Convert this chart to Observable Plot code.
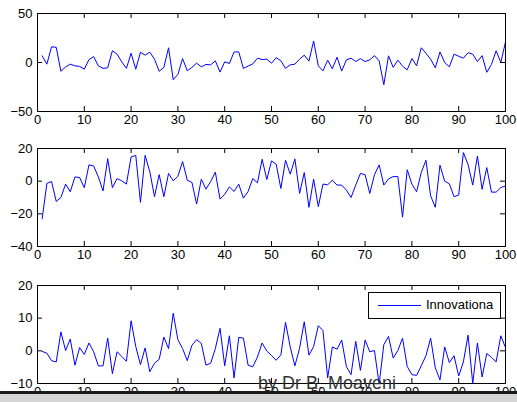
<!DOCTYPE html>
<html><head><meta charset="utf-8">
<script src="https://cdn.jsdelivr.net/npm/d3@7"></script>
<script src="https://cdn.jsdelivr.net/npm/@observablehq/plot@0.6"></script>
<style>
body{margin:0;background:#fff;width:517px;height:402px;overflow:hidden;font-family:"Liberation Sans",Arial,sans-serif;}
#wrap{position:relative;width:517px;height:402px;overflow:hidden;}
.panel{position:absolute;left:0;}
#legend{position:absolute;left:368px;top:292px;width:131px;height:25px;border:1px solid #000;background:#fff;font-size:13px;}
#legend .sw{position:absolute;left:9px;top:12px;width:43px;height:1px;background:#0000ff;}
#legend .lb{position:absolute;left:57px;top:4px;color:#000;white-space:nowrap;}
#mark{position:absolute;left:258px;top:372px;height:20px;overflow:hidden;font-size:18px;color:#333;white-space:nowrap;line-height:22px;}
#bar{position:absolute;left:0;top:391px;width:517px;height:3px;background:#1a1a1a;}
#below{position:absolute;left:0;top:394px;width:517px;height:8px;background:#d4d4d4;}
</style></head><body><div id="wrap"></div>
<script>
const xTicks = [0,10,20,30,40,50,60,70,80,90,100];
const yTicks1 = [-50,0,50];
const yTicks2 = [-40,-20,0,20];
const yTicks3 = [-10,0,10,20];
const yDomain1 = [-50,50];
const yDomain2 = [-40,20];
const yDomain3 = [-10,20];
const legendLabel = "Innovationa";
const watermark = "by Dr B. Moaveni";

const series1 = [6.8,-1.7,16,15.5,-9,-4.5,-1.7,-3.4,-4,-6.8,
3,6,-3.4,-6,-5.4,12,8.5,0.7,-6,9.5,
-6.8,10.5,7.5,10.5,3.4,-9,-5,15,-17.6,-12,
4,-8.5,-5,-0.7,-4.4,-2,-2.4,1.7,-9.8,0.7,
-1,10.8,10.8,-6,-3.7,-1.4,4.4,3,3.4,-0.7,
5,1.7,-6,-2.4,-1.7,3.4,7.5,1.4,22,-3.4,
-8.5,2.4,-6.4,5.4,-8.8,2.7,4.4,1,4,1,
2.7,7,1.7,-22.7,6.8,-5,2.4,-3.7,-7.5,4,
-3.4,15,9.5,3.4,-5.4,10.8,0,-4.4,8.5,6.4,
4.4,10,8.5,1,7,-10,-2,12,0,21];

const series2 = [-23,-1.4,-0.2,-12.4,-10,-1.8,-6.5,2.6,2.2,-4,
10,9.3,2.6,-6,13.8,-4,1.6,0.2,-1.8,14.8,
15.8,-13,15.8,5.7,-9.5,4,-9.5,4.7,0.2,3,
12,0.6,-0.8,-14,1.2,-4.9,-0.2,5.5,-11,-8,
-3.5,-6.3,-1.8,-10.4,-6.3,1.6,-1,13.4,1,12.4,
10.4,-4.5,12.8,4.3,13.6,-7.5,5.3,-16,1.2,-15.6,
-1.8,-2.2,0.6,-2.4,-2.4,-5.5,-10,-2.4,4.7,4,
-7.5,3.9,10,-2.4,1.4,2.8,2.8,-22,7,-1.8,
-6.5,5.3,12.8,-9,-16,9.8,0,-1.6,-9.5,-8.5,
17.5,10.2,-2.4,15.4,-5,8.3,-6.7,-6.7,-3.9,-3];

const series3 = [-0.2,-0.7,-3,-3.4,5.8,0.1,3.6,-4.4,1,-1.1,
2.4,-0.3,-4.6,-4.6,3.9,-7,-0.3,-1.7,-3.2,9.2,
1.3,-4.2,0.9,-6.4,-3.8,-2.6,4.2,0.7,11.5,3.4,
0.7,-3,1.7,3.4,2.3,-4.4,-3.8,0.7,6.9,-4.6,
4.6,-8.3,4.1,3.9,-4.4,-4.9,-1.9,2.4,-0.1,-1.4,
-2.9,-1.2,8.7,1.2,-4.6,0.8,8.9,-1.3,1.3,7.7,
6.2,-8.3,1.2,0.5,3.3,-4.8,-7.3,2.9,-6,3.3,
-0.3,0.1,-10.2,1.9,4.4,-2.2,0.1,3.9,-4.8,-7.3,
-7.5,-4.6,-1.5,3.9,-5.2,-8.9,1.2,-3.6,-1.5,-7.7,
-3.4,4.8,-10,2.4,-8,-0.8,-2,-3.4,4.6,1];

const W = 517, mL = 37, mR = 12, mT = 8, mB = 22, H = 128;
const areaW = W - mL - mR, areaH = H - mT - mB, tick = 5;

function panel(values, domain, ticks, top) {
  const svg = Plot.plot({
    width: W, height: H,
    marginLeft: mL, marginRight: mR, marginTop: mT, marginBottom: mB,
    style: {fontSize: "13px", fontFamily: '"Liberation Sans", Arial, sans-serif', color: "#000", background: "transparent", overflow: "visible"},
    x: {domain: [0, 100]},
    y: {domain},
    marks: [
      Plot.line(values, {x: (d, i) => i + 1, y: d => d, stroke: "#0000ff", strokeWidth: 1, clip: true}),
      Plot.frame({stroke: "#000"}),
      Plot.axisX({ticks: xTicks, tickSize: 0, tickPadding: 3}),
      Plot.axisY({ticks: ticks, tickSize: 0, tickPadding: 5}),
      Plot.tickX(xTicks, {x: d => d, insetTop: areaH - tick, stroke: "#000"}),
      Plot.tickX(xTicks, {x: d => d, insetBottom: areaH - tick, stroke: "#000"}),
      Plot.tickY(ticks, {y: d => d, insetRight: areaW - tick, stroke: "#000"}),
      Plot.tickY(ticks, {y: d => d, insetLeft: areaW - tick, stroke: "#000"})
    ]
  });
  svg.classList.add("panel");
  svg.style.top = top + "px";
  return svg;
}

const wrap = document.getElementById("wrap");
wrap.appendChild(panel(series1, yDomain1, yTicks1, 5));
wrap.appendChild(panel(series2, yDomain2, yTicks2, 140));
wrap.appendChild(panel(series3, yDomain3, yTicks3, 277));

const lg = document.createElement("div");
lg.id = "legend";
lg.innerHTML = '<div class="sw"></div><div class="lb"></div>';
lg.querySelector(".lb").textContent = legendLabel;
wrap.appendChild(lg);

const mk = document.createElement("div");
mk.id = "mark";
mk.textContent = watermark;
wrap.appendChild(mk);

const bar = document.createElement("div"); bar.id = "bar"; wrap.appendChild(bar);
const below = document.createElement("div"); below.id = "below"; wrap.appendChild(below);
</script>
</body></html>
